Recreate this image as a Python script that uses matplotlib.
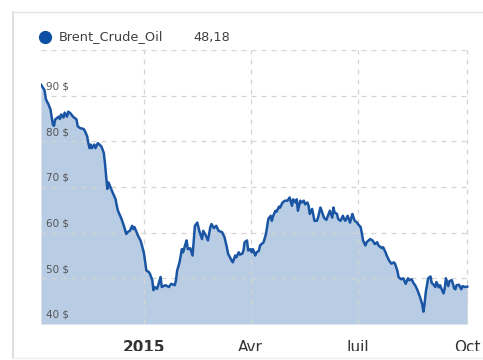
import matplotlib
matplotlib.use('Agg')
import matplotlib.pyplot as plt
from matplotlib.patches import Rectangle
from matplotlib.lines import Line2D
import pandas as pd

# Brent crude, daily close (USD / barrel)
dates = [
    '2014-10-06', '2014-10-07', '2014-10-09', '2014-10-10', '2014-10-11', '2014-10-12',
    '2014-10-14', '2014-10-15', '2014-10-16', '2014-10-17', '2014-10-18', '2014-10-21',
    '2014-10-22', '2014-10-23', '2014-10-25', '2014-10-26', '2014-10-28', '2014-10-29',
    '2014-10-31', '2014-11-02', '2014-11-05', '2014-11-06', '2014-11-08', '2014-11-11',
    '2014-11-12', '2014-11-14', '2014-11-15', '2014-11-16', '2014-11-17', '2014-11-18',
    '2014-11-20', '2014-11-21', '2014-11-23', '2014-11-26', '2014-11-28', '2014-11-29',
    '2014-11-30', '2014-12-01', '2014-12-02', '2014-12-05', '2014-12-08', '2014-12-09',
    '2014-12-10', '2014-12-13', '2014-12-15', '2014-12-17', '2014-12-18', '2014-12-20',
    '2014-12-22', '2014-12-23', '2014-12-24', '2014-12-27', '2014-12-29', '2014-12-30',
    '2015-01-01', '2015-01-03', '2015-01-05', '2015-01-06', '2015-01-08', '2015-01-09',
    '2015-01-10', '2015-01-12', '2015-01-13', '2015-01-15', '2015-01-16', '2015-01-19',
    '2015-01-22', '2015-01-24', '2015-01-27', '2015-01-28', '2015-01-29', '2015-01-31',
    '2015-02-02', '2015-02-03', '2015-02-05', '2015-02-06', '2015-02-07', '2015-02-09',
    '2015-02-11', '2015-02-13', '2015-02-15', '2015-02-17', '2015-02-19', '2015-02-20',
    '2015-02-22', '2015-02-24', '2015-02-26', '2015-02-27', '2015-03-01', '2015-03-03',
    '2015-03-05', '2015-03-08', '2015-03-10', '2015-03-12', '2015-03-13', '2015-03-16',
    '2015-03-17', '2015-03-19', '2015-03-20', '2015-03-22', '2015-03-23', '2015-03-25',
    '2015-03-26', '2015-03-27', '2015-03-29', '2015-03-30', '2015-04-01', '2015-04-02',
    '2015-04-03', '2015-04-05', '2015-04-06', '2015-04-08', '2015-04-09', '2015-04-12',
    '2015-04-14', '2015-04-16', '2015-04-18', '2015-04-19', '2015-04-20', '2015-04-22',
    '2015-04-23', '2015-04-25', '2015-04-26', '2015-04-28', '2015-04-30', '2015-05-02',
    '2015-05-03', '2015-05-04', '2015-05-06', '2015-05-07', '2015-05-09', '2015-05-10',
    '2015-05-11', '2015-05-13', '2015-05-14', '2015-05-16', '2015-05-17', '2015-05-19',
    '2015-05-20', '2015-05-21', '2015-05-23', '2015-05-25', '2015-05-27', '2015-05-28',
    '2015-05-30', '2015-05-31', '2015-06-02', '2015-06-03', '2015-06-04', '2015-06-06',
    '2015-06-07', '2015-06-09', '2015-06-10', '2015-06-11', '2015-06-13', '2015-06-14',
    '2015-06-16', '2015-06-18', '2015-06-19', '2015-06-20', '2015-06-22', '2015-06-24',
    '2015-06-26', '2015-06-27', '2015-06-28', '2015-06-30', '2015-07-01', '2015-07-03',
    '2015-07-04', '2015-07-05', '2015-07-07', '2015-07-08', '2015-07-11', '2015-07-13',
    '2015-07-15', '2015-07-17', '2015-07-18', '2015-07-21', '2015-07-22', '2015-07-24',
    '2015-07-25', '2015-07-27', '2015-07-29', '2015-07-31', '2015-08-01', '2015-08-03',
    '2015-08-04', '2015-08-06', '2015-08-08', '2015-08-10', '2015-08-12', '2015-08-13',
    '2015-08-15', '2015-08-17', '2015-08-18', '2015-08-20', '2015-08-21', '2015-08-22',
    '2015-08-24', '2015-08-25', '2015-08-26', '2015-08-27', '2015-08-28', '2015-08-29',
    '2015-08-31', '2015-09-01', '2015-09-03', '2015-09-04', '2015-09-05', '2015-09-07',
    '2015-09-08', '2015-09-11', '2015-09-12', '2015-09-13', '2015-09-15', '2015-09-16',
    '2015-09-18', '2015-09-20', '2015-09-21', '2015-09-22', '2015-09-24', '2015-09-26',
    '2015-09-27', '2015-09-29', '2015-10-01',
]
prices = [
    92.4, 92.0, 91.2, 89.4, 88.7, 88.3,
    87.0, 85.4, 83.7, 83.4, 84.8, 85.4,
    84.9, 85.9, 85.2, 86.3, 85.4, 86.5,
    86.1, 85.4, 84.8, 83.3, 82.9, 82.7,
    82.3, 81.1, 79.6, 78.5, 79.3, 78.5,
    79.3, 78.5, 79.6, 78.9, 77.5, 75.3,
    72.4, 69.6, 71.0, 69.1, 67.3, 65.9,
    64.8, 63.0, 61.5, 59.7, 60.1, 60.4,
    61.5, 60.8, 61.2, 59.3, 58.3, 57.5,
    55.4, 51.7, 51.4, 51.0, 49.6, 47.4,
    48.1, 47.7, 48.5, 50.3, 48.1, 48.5,
    48.1, 48.8, 48.5, 49.6, 51.7, 53.5,
    56.4, 55.7, 57.5, 58.3, 56.4, 56.6,
    55.0, 61.5, 62.2, 60.1, 58.6, 60.4,
    59.5, 58.3, 61.2, 61.9, 61.0, 61.5,
    60.4, 60.1, 59.0, 56.8, 55.4, 53.9,
    53.5, 55.0, 54.6, 55.7, 55.2, 55.4,
    56.1, 57.9, 58.3, 56.1, 56.4, 55.7,
    56.4, 55.0, 55.7, 56.0, 57.2, 57.9,
    59.7, 63.0, 63.7, 62.6, 63.6, 64.8,
    64.6, 65.7, 65.5, 66.6, 67.0, 67.0,
    67.3, 67.7, 65.9, 67.3, 66.6, 67.3,
    64.8, 67.0, 66.6, 67.0, 66.2, 66.6,
    65.9, 64.1, 65.2, 62.6, 62.6, 63.3,
    65.5, 64.8, 63.3, 63.0, 62.8, 64.1,
    64.8, 63.3, 65.5, 64.4, 64.1, 63.0,
    62.6, 63.7, 63.0, 62.6, 63.7, 62.2,
    64.1, 63.3, 62.6, 62.2, 61.8, 61.2,
    59.9, 58.3, 57.2, 57.9, 58.6, 58.3,
    57.5, 57.9, 57.2, 56.6, 56.8, 55.7,
    55.0, 53.9, 53.2, 53.5, 53.2, 51.7,
    50.3, 49.8, 50.0, 48.8, 50.0, 49.6,
    49.8, 48.8, 48.5, 47.4, 46.7, 46.0,
    44.3, 42.7, 44.5, 47.0, 48.5, 50.0,
    50.4, 49.0, 48.5, 48.1, 49.2, 48.0,
    48.5, 46.7, 47.8, 50.0, 48.3, 49.4,
    49.6, 47.8, 47.6, 48.5, 48.6, 47.6,
    48.3, 48.1, 48.18,
]
y_ticks = [40, 50, 60, 70, 80, 90, 100]
x_ticks = ['2015-01-01', '2015-04-01', '2015-07-01', '2015-10-01']
x_labels = ['2015', 'Avr', 'Juil', 'Oct']
series_name = 'Brent_Crude_Oil'
last_value = '48,18'

df = pd.DataFrame({'date': pd.to_datetime(dates), 'price': prices})

line_c = '#1a55a4'
fill_c = '#b8cce4'
grid_c = '#d4d4d4'

W, H = 483, 360
fig = plt.figure(figsize=(W / 100, H / 100), dpi=100, facecolor='white')

ax = fig.add_axes([41 / W, 1 - 324 / H, 428 / W, 274 / H])
ax.fill_between(df['date'], prices, 40, color=fill_c, lw=0, zorder=1)
ax.plot(df['date'], df['price'], color=line_c, lw=1.8, zorder=3,
        solid_joinstyle='round')

ax.set_ylim(40, 100)
ax.set_xlim(df['date'].iloc[0], pd.Timestamp('2015-10-02 12:00'))

for v in y_ticks:
    ax.axhline(v, color=grid_c, lw=0.9, ls=(0, (4, 4)), zorder=2)
    if 40 <= v < 100:
        ax.text(0.012, v + 0.9, '%d $' % v, transform=ax.get_yaxis_transform(),
                ha='left', va='bottom', fontsize=7.5, color='#555555', zorder=4)
for d in x_ticks:
    ax.axvline(pd.Timestamp(d), color=grid_c, lw=0.9, ls=(0, (4, 4)), zorder=2)

ax.set_xticks([])
ax.set_yticks([])
for s in ax.spines.values():
    s.set_visible(False)

for d, lab in zip(x_ticks, x_labels):
    ax.text(pd.Timestamp(d), -0.058, lab, transform=ax.get_xaxis_transform(),
            ha='center', va='top', fontsize=11, color='#333333',
            fontweight='bold' if lab == '2015' else 'normal', clip_on=False)

# the panel ends just under the month labels, so they get cut off
fig.add_artist(Rectangle((0, 0), 1, 9 / H, transform=fig.transFigure,
                         facecolor='white', edgecolor='none', zorder=5))

# panel frame (left and top edges, faint bottom)
fig.add_artist(Line2D([12.5 / W, 12.5 / W], [2 / H, 1 - 12 / H], color='#d9d9d9', lw=1.2, zorder=6))
fig.add_artist(Line2D([12.5 / W, 1], [1 - 12 / H, 1 - 12 / H], color='#e3e3e3', lw=1.0, zorder=6))
fig.add_artist(Line2D([12.5 / W, 1], [2 / H, 2 / H], color='#ececec', lw=1.0, zorder=6))

# legend row
fig.add_artist(Line2D([45 / W], [1 - 37 / H], marker='o', markersize=8.5,
                      color='#0d4fa3', lw=0, transform=fig.transFigure))
fig.text(59 / W, 1 - 37 / H, series_name, ha='left', va='center',
         fontsize=9.3, color='#404040')
fig.text(193 / W, 1 - 37 / H, last_value, ha='left', va='center',
         fontsize=9.3, color='#404040')

fig.savefig('out.png', dpi=100, facecolor='white')
